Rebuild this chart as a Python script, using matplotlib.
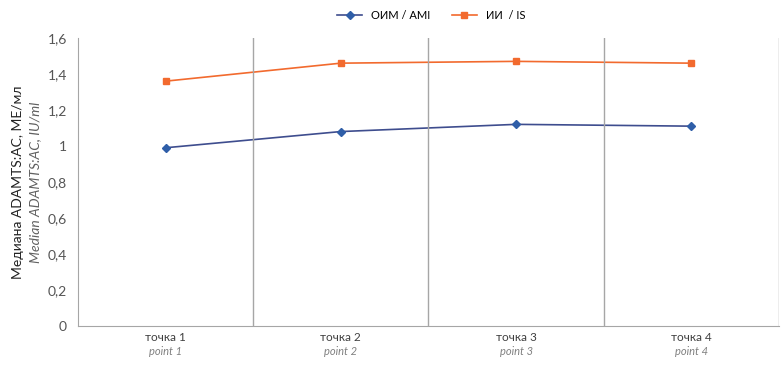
import numpy as np
import matplotlib.pyplot as plt

plt.rcParams['font.family'] = ['Lato', 'DejaVu Sans']

# data
points_ru = ['точка 1', 'точка 2', 'точка 3', 'точка 4']
points_en = ['point 1', 'point 2', 'point 3', 'point 4']
ami = [0.99, 1.08, 1.12, 1.11]
is_vals = [1.36, 1.46, 1.47, 1.46]

fig = plt.figure(figsize=(7.84, 3.65), dpi=100)
ax = fig.add_axes([0.0995, 0.107, 0.894, 0.789])

x = np.arange(1, len(points_ru) + 1)
ax.plot(x, ami, color='#3e4d8e', lw=1.2, marker='D', ms=4.5,
        mfc='#2f5ea8', mec='#2f5ea8', label='ОИМ / AMI')
ax.plot(x, is_vals, color='#f26a2e', lw=1.2, marker='s', ms=5,
        mfc='#f26a2e', mec='#f26a2e', label='ИИ  / IS')

ax.set_xlim(0.5, 4.5)
ax.set_ylim(0, 1.6)
yt = np.arange(0, 1.61, 0.2)
ax.set_yticks(yt)
ax.set_yticklabels(['0' if v == 0 else ('1' if abs(v - 1) < 1e-9 else f'{v:.1f}'.replace('.', ','))
                    for v in yt], fontsize=10, color='#555555')
ax.tick_params(axis='y', length=0, pad=8)
ax.set_xticks([])

# category separators
for b in [1.5, 2.5, 3.5, 4.5]:
    ax.axvline(b, color='#a6a6a6', lw=1)

for s in ['top', 'right']:
    ax.spines[s].set_visible(False)
for s in ['left', 'bottom']:
    ax.spines[s].set_color('#a6a6a6')

px = 72 / 100  # pixels -> points
for xi, ru, en in zip(x, points_ru, points_en):
    ax.annotate(ru, xy=(xi, 0), xycoords=('data', 'axes fraction'),
                xytext=(0, -12 * px), textcoords='offset points',
                ha='center', va='center', fontsize=8.5, color='#404040')
    ax.annotate(en, xy=(xi, 0), xycoords=('data', 'axes fraction'),
                xytext=(0, -26 * px), textcoords='offset points',
                ha='center', va='center', fontsize=8, color='#808080', style='italic')

fig.text(0.023, 0.5, 'Медиана ADAMTS:AC, МЕ/мл', rotation=90, ha='center', va='center',
         fontsize=10, color='#222222')
fig.text(0.045, 0.5, 'Median ADAMTS:AC, IU/ml', rotation=90, ha='center', va='center',
         fontsize=10, color='#606060', style='italic')

fig.legend(loc='upper center', bbox_to_anchor=(0.55, 1.0), ncol=2, frameon=False,
           fontsize=8, handlelength=2.2, columnspacing=2)

fig.savefig('out.png', dpi=100)
